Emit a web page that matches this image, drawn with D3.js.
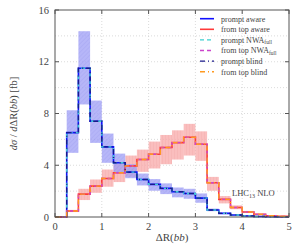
<!DOCTYPE html>
<html>
<head>
<meta charset="utf-8">
<script src="https://cdn.jsdelivr.net/npm/d3@7"></script>
<style>
body{margin:0;background:#fff;}
text{font-family:"Liberation Serif","DejaVu Serif",serif;fill:#444;}
</style>
</head>
<body>
<div id="chart"></div>
<script>
// bin edges of dR(bb), width 0.25
var edges = [0,0.25,0.5,0.75,1,1.25,1.5,1.75,2,2.25,2.5,2.75,3,3.25,3.5,3.75,4,4.25,4.5,4.75];
var prompt = [0,6.52,11.5,7.4,5.42,4.19,3.47,2.9,2.52,2.21,1.95,1.82,1.46,0.54,0.28,0.15,0.08,0.04,0.02,0.01];
var promptHi = [0,8.25,14.36,9.0,6.45,4.9,4.08,3.36,2.93,2.6,2.28,2.18,1.82,0.65,0.34,0.18,0.1,0.05,0.03,0.015];
var promptLo = [0,4.96,8.7,5.73,4.19,3.47,3.0,2.44,2.03,1.77,1.52,1.41,1.1,0.45,0.23,0.12,0.06,0.03,0.015,0.008];
var fromTop = [0,0.46,1.77,2.39,2.98,3.42,3.95,4.44,4.85,5.37,5.75,6.16,5.62,2.65,1.36,0.74,0.39,0.2,0.1,0.05];
var fromTopHi = [0,0.55,2.18,2.9,3.67,4.13,4.75,5.21,5.83,6.34,6.7,7.2,6.62,3.1,1.62,0.9,0.47,0.24,0.12,0.06];
var fromTopLo = [0,0.38,1.31,1.87,2.34,2.7,3.1,3.49,3.75,4.08,4.44,4.75,4.34,2.03,1.05,0.6,0.31,0.16,0.08,0.04];
var xTicks = [0,1,2,3,4,5];
var yTicks = [0,4,8,12,16];
var yGrid = [2,4,6,8,10,12,14];

var series = [
    {name:"prompt aware", sub:"", vals:prompt, color:"#1010ff", dash:null, w:1.6},
    {name:"from top aware", sub:"", vals:fromTop, color:"#ff3a3a", dash:null, w:1.6},
    {name:"prompt NWA", sub:"full", vals:prompt, color:"#3cd0d0", dash:"4,3", w:1.4},
    {name:"from top NWA", sub:"full", vals:fromTop, color:"#cc44cc", dash:"4,3", w:1.4},
    {name:"prompt blind", sub:"", vals:prompt, color:"#1a1a8a", dash:"5,3,1,3", w:1.4},
    {name:"from top blind", sub:"", vals:fromTop, color:"#ff9a20", dash:"5,3,1,3", w:1.4}
];

var W = 305, H = 248;
var m = {l:55, r:16, t:10, b:31};
var svg = d3.select("#chart").append("svg").attr("width",W).attr("height",H);
var x = d3.scaleLinear().domain([0,5]).range([m.l, W-m.r]);
var y = d3.scaleLinear().domain([0,16]).range([H-m.b, m.t]);
var bw = 0.25;

var defs = svg.append("defs");
var pb = defs.append("pattern").attr("id","hatchBlue").attr("patternUnits","userSpaceOnUse")
    .attr("width",3).attr("height",3).attr("patternTransform","rotate(45)");
pb.append("rect").attr("width",3).attr("height",3).attr("fill","#a2a2f6");
pb.append("line").attr("x1",0).attr("y1",0).attr("x2",0).attr("y2",3).attr("stroke","#8c8cee").attr("stroke-width",1);
var pr = defs.append("pattern").attr("id","hatchRed").attr("patternUnits","userSpaceOnUse")
    .attr("width",3).attr("height",3);
pr.append("rect").attr("width",3).attr("height",3).attr("fill","#f8acac");
pr.append("line").attr("x1",0).attr("y1",0).attr("x2",0).attr("y2",3).attr("stroke","#f29a9a").attr("stroke-width",1);

// grid
svg.selectAll(".gy").data(yGrid).enter().append("line")
    .attr("x1",x(0)).attr("x2",x(5)).attr("y1",function(d){return y(d);}).attr("y2",function(d){return y(d);})
    .attr("stroke","#ccc").attr("stroke-width",0.7).attr("stroke-dasharray","1,2");
svg.selectAll(".gx").data([1,2,3,4]).enter().append("line")
    .attr("x1",function(d){return x(d);}).attr("x2",function(d){return x(d);}).attr("y1",y(0)).attr("y2",y(16))
    .attr("stroke","#ccc").attr("stroke-width",0.7).attr("stroke-dasharray","1,2");

// bands
var bands = [
    {hi:fromTopHi, lo:fromTopLo, fill:"url(#hatchRed)"},
    {hi:promptHi, lo:promptLo, fill:"url(#hatchBlue)"}
];
bands.forEach(function(b){
    svg.append("g").selectAll("rect").data(edges).enter().append("rect")
        .attr("x",function(d){return x(d);})
        .attr("width",function(d){return x(d+bw)-x(d);})
        .attr("y",function(d,i){return y(b.hi[i]);})
        .attr("height",function(d,i){return y(b.lo[i])-y(b.hi[i]);})
        .attr("fill",b.fill).attr("opacity",0.78);
});

// step lines
var line = d3.line().x(function(d){return x(d[0]);}).y(function(d){return y(d[1]);}).curve(d3.curveStepAfter);
series.forEach(function(s){
    var pts = edges.map(function(e,i){return [e, s.vals[i]];});
    pts.push([5, s.vals[s.vals.length-1]]);
    svg.append("path").attr("d",line(pts)).attr("fill","none")
        .attr("stroke",s.color).attr("stroke-width",s.w)
        .attr("stroke-dasharray",s.dash);
});

// frame + ticks
svg.append("rect").attr("x",x(0)).attr("y",y(16)).attr("width",x(5)-x(0)).attr("height",y(0)-y(16))
    .attr("fill","none").attr("stroke","#555").attr("stroke-width",1);
svg.selectAll(".ty").data(yTicks).enter().append("line")
    .attr("x1",x(0)).attr("x2",x(0)+4).attr("y1",function(d){return y(d);}).attr("y2",function(d){return y(d);})
    .attr("stroke","#555");
svg.selectAll(".tyr").data(yTicks).enter().append("line")
    .attr("x1",x(5)).attr("x2",x(5)-4).attr("y1",function(d){return y(d);}).attr("y2",function(d){return y(d);})
    .attr("stroke","#555");
svg.selectAll(".tx").data(xTicks).enter().append("line")
    .attr("x1",function(d){return x(d);}).attr("x2",function(d){return x(d);}).attr("y1",y(0)).attr("y2",y(0)-4)
    .attr("stroke","#555");
svg.selectAll(".txt").data(xTicks).enter().append("line")
    .attr("x1",function(d){return x(d);}).attr("x2",function(d){return x(d);}).attr("y1",y(16)).attr("y2",y(16)+4)
    .attr("stroke","#555");

svg.selectAll(".ly").data(yTicks).enter().append("text")
    .attr("x",x(0)-6).attr("y",function(d){return y(d)+3.5;}).attr("text-anchor","end")
    .attr("font-size",10.5).text(function(d){return d;});
svg.selectAll(".lx").data(xTicks).enter().append("text")
    .attr("x",function(d){return x(d);}).attr("y",y(0)+13).attr("text-anchor","middle")
    .attr("font-size",10.5).text(function(d){return d;});

// axis titles
var xt = svg.append("text").attr("x",(x(0)+x(5))/2).attr("y",H-7).attr("text-anchor","middle").attr("font-size",11);
xt.append("tspan").text("ΔR(");
xt.append("tspan").attr("font-style","italic").text("bb");
xt.append("tspan").text(")");

var yt = svg.append("text").attr("transform","translate(17,"+((y(0)+y(16))/2)+") rotate(-90)")
    .attr("text-anchor","middle").attr("font-size",10.5);
yt.append("tspan").attr("font-style","italic").text("dσ");
yt.append("tspan").text(" / ");
yt.append("tspan").attr("font-style","italic").text("d");
yt.append("tspan").text("ΔR(");
yt.append("tspan").attr("font-style","italic").text("bb");
yt.append("tspan").text(")  [fb]");

// legend
var leg = svg.append("g");
series.forEach(function(s,i){
    var ly = 18.7 + i*10.6;
    leg.append("line").attr("x1",200).attr("x2",214).attr("y1",ly).attr("y2",ly)
        .attr("stroke",s.color).attr("stroke-width",s.w).attr("stroke-dasharray",s.dash);
    var t = leg.append("text").attr("x",221).attr("y",ly+2.8).attr("font-size",8).text(s.name);
    if (s.sub) t.append("tspan").attr("font-size",5.5).attr("dy",1.5).text(s.sub);
});

var lhc = svg.append("text").attr("x",232).attr("y",196).attr("font-size",8.5).text("LHC");
lhc.append("tspan").attr("font-size",6).attr("dy",1.8).text("13");
lhc.append("tspan").attr("dy",-1.8).text(" NLO");
</script>
</body>
</html>
